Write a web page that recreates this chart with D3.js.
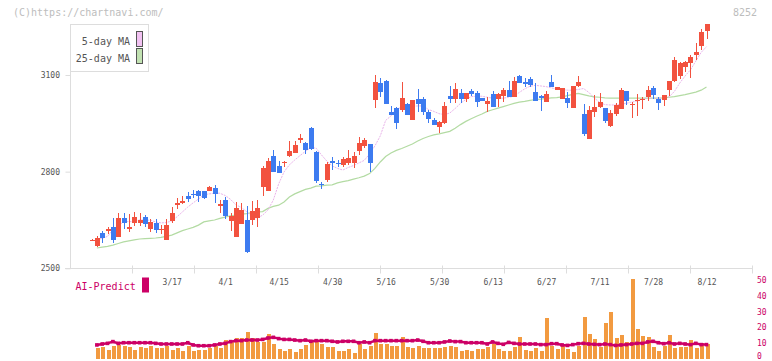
<!DOCTYPE html>
<html><head><meta charset="utf-8">
<script src="https://cdn.jsdelivr.net/npm/d3@7"></script>
<style>
html,body{margin:0;padding:0;background:#fff;}
svg{display:block;}
text{font-family:"DejaVu Sans Mono",monospace;}
</style></head>
<body><svg id="c" width="772" height="361"></svg>
<script>
// ---- data ----
const dateIdx    = [15,25,35,45,55,65,75,85,95,105,115];
const dateLabels = ["3/17","4/1","4/15","4/30","5/16","5/30","6/13","6/27","7/11","7/28","8/12"];
const priceTicks = [2500,2800,3100];
const volTicks   = [0,10,20,30,40,50];

const open  = [2588,2569,2609,2616,2627,2597,2656,2623,2641,2640,2659,2623,2641,2621,2588,2648,2697,2704,2724,2732,
               2740,2740,2740,2749,2694,2712,2647,2597,2637,2650,2650,2656,2753,2740,2849,2818,2827,2849,2859,2898,
               2888,2936,2862,2761,2774,2833,2828,2821,2826,2828,2865,2880,2887,3023,3076,3081,2986,2997,2991,3009,
               2960,3025,3027,2986,2960,2940,2950,3036,3025,3043,3024,3050,3045,3030,3011,3040,3025,3035,3053,3033,
               3097,3079,3087,3046,3035,3017,3077,3053,3025,3030,2998,3067,2979,2901,2984,3002,2997,2943,2980,2994,
               3050,3007,3020,3023,3033,3059,3027,3022,3053,3082,3098,3126,3138,3162,3190,3237];
const high  = [2591,2600,2616,2627,2656,2672,2672,2669,2675,2672,2665,2653,2652,2635,2653,2690,2717,2724,2738,2743,
               2743,2740,2755,2759,2712,2721,2672,2706,2703,2693,2709,2712,2818,2842,2867,2833,2833,2895,2894,2918,
               2893,2940,2865,2769,2831,2846,2836,2844,2867,2862,2908,2903,2887,3100,3090,3084,3004,3000,3078,3014,
               3022,3057,3033,2991,2967,2958,3017,3067,3076,3057,3045,3057,3050,3030,3033,3050,3045,3061,3082,3095,
               3100,3090,3095,3074,3038,3050,3100,3064,3061,3048,3066,3097,3010,3005,3038,3043,2997,2991,3012,3059,
               3050,3015,3041,3033,3067,3067,3033,3038,3081,3157,3141,3144,3162,3200,3243,3258];
const low   = [2585,2566,2579,2605,2578,2597,2622,2614,2632,2632,2629,2614,2609,2607,2588,2641,2684,2701,2706,2718,
               2707,2714,2740,2703,2672,2653,2616,2597,2637,2548,2634,2628,2724,2740,2800,2795,2815,2846,2857,2888,
               2855,2867,2764,2745,2769,2805,2815,2815,2820,2812,2852,2872,2800,2998,3033,3009,2976,2931,2986,2976,
               2960,2986,2976,2950,2945,2921,2947,3012,3012,3012,3017,3036,3002,3019,2984,3002,3002,3017,3031,3033,
               3076,3062,3064,3019,2989,3017,3064,3053,3025,2998,2998,3064,2912,2901,2971,2997,2950,2938,2973,2994,
               3007,2967,2974,2994,3019,3025,2991,3005,3036,3079,3088,3108,3092,3147,3178,3211];
const close = [2588,2595,2595,2622,2588,2656,2641,2627,2659,2650,2638,2644,2620,2623,2634,2672,2703,2710,2715,2729,
               2724,2719,2752,2731,2700,2662,2662,2687,2681,2551,2678,2687,2811,2833,2800,2795,2830,2864,2883,2905,
               2867,2869,2772,2758,2824,2826,2826,2838,2841,2849,2890,2898,2826,3078,3047,3009,2976,2952,3030,2976,
               3022,3009,2986,2963,2945,2953,3004,3025,3057,3025,3045,3040,3016,3019,3019,3002,3041,3054,3031,3081,
               3076,3071,3069,3019,3028,3041,3064,3062,3061,3014,3066,3079,2917,2991,3001,3015,2958,2982,3007,3053,
               3019,3010,3022,3027,3053,3038,3014,3038,3081,3147,3136,3139,3155,3172,3234,3258];

const ma5  = [null,2589,2593,2599,2619,2631,2645,2645,2645,2650,2650,2649,2644,2641,2642,2647,2660,2675,2690,2703,
              2715,2728,2731,2733,2733,2726,2714,2697,2689,2676,2659,2656,2665,2681,2712,2762,2799,2821,2836,2850,
              2863,2875,2873,2852,2833,2818,2810,2805,2813,2819,2827,2835,2855,2880,2911,2959,2973,2995,2999,3002,
              3003,3004,3004,2993,2987,2980,2977,2982,2996,3012,3024,3033,3034,3034,3031,3028,3028,3028,3031,3034,
              3046,3057,3065,3068,3066,3064,3060,3056,3055,3053,3053,3055,3058,3046,3029,3015,3008,3007,3007,3009,
              3012,3016,3019,3025,3028,3028,3028,3029,3032,3049,3075,3097,3116,3143,3170,3188];
const ma25 = [null,2563,2566,2568,2572,2577,2582,2585,2588,2591,2592,2593,2594,2596,2599,2603,2610,2617,2622,2627,
              2634,2644,2647,2650,2655,2659,2663,2665,2668,2670,2673,2675,2676,2686,2692,2696,2706,2721,2731,2738,
              2745,2749,2755,2756,2758,2759,2765,2769,2772,2777,2781,2786,2794,2810,2830,2847,2858,2866,2872,2879,
              2886,2895,2903,2909,2914,2917,2921,2925,2935,2946,2956,2964,2972,2979,2987,2992,2997,3002,3007,3012,
              3016,3018,3021,3024,3025,3027,3029,3030,3032,3036,3040,3043,3039,3035,3032,3031,3029,3028,3028,3028,
              3028,3028,3028,3028,3028,3028,3028,3029,3031,3033,3036,3039,3043,3047,3053,3063];

const volume = [null,7.2,7.8,5.7,8.4,8.9,8.2,7.6,5.7,7.4,7.0,8.4,7.0,7.0,8.2,5.7,7.0,5.3,8.2,5.3,
                5.7,5.7,7.2,8.4,7.2,12.0,11.4,13.3,13.3,17.1,13.3,10.8,10.8,16.0,9.5,6.5,5.1,6.5,4.4,6.3,
                8.9,10.8,10.8,9.5,7.6,7.6,5.3,5.3,6.5,3.8,9.5,6.5,8.2,16.5,9.5,9.5,8.2,8.2,13.9,7.6,
                7.0,8.2,7.2,7.2,7.2,7.2,7.6,8.4,7.6,5.3,5.9,5.3,6.5,6.5,7.4,9.3,6.5,5.3,5.3,7.4,
                13.9,5.9,5.3,7.2,5.3,26.0,8.4,6.5,8.4,6.5,4.4,8.4,26.6,15.8,12.9,7.8,23.0,29.7,13.5,15.4,
                11.0,50.6,19.0,14.8,14.1,7.8,5.3,8.4,15.2,7.2,7.8,7.8,12.0,7.2,10.3,9.5];
const aiPredict = [null,8.9,9.5,9.9,11.0,9.9,10.3,10.3,10.3,10.3,10.3,10.3,9.9,9.5,9.5,9.5,9.5,9.5,10.3,8.9,
                8.4,8.4,8.4,8.9,9.5,9.9,11.0,11.6,11.6,12.0,12.0,12.0,12.4,13.3,13.7,12.9,12.4,12.4,12.0,11.6,
                12.0,11.2,11.6,11.6,11.6,11.2,10.8,11.2,11.2,11.2,10.3,10.8,10.3,11.6,11.6,11.6,11.6,11.6,11.6,11.6,
                11.6,12.0,11.2,10.3,10.3,10.3,10.8,11.4,11.0,11.0,10.3,10.3,10.3,10.3,9.5,10.8,9.9,9.3,10.5,9.9,
                9.5,9.5,9.5,9.5,9.1,9.1,9.7,9.7,8.9,8.6,9.1,9.7,9.9,9.5,9.3,9.1,9.5,9.1,8.6,8.9,
                9.1,9.5,9.9,9.9,10.8,11.2,10.3,9.7,10.3,9.5,9.9,9.5,9.1,9.9,9.1,9.1];

// ---- styling ----
const UP = "#f2523f", DOWN = "#3d7bf0", GRID = "#dddddd", TXT = "#555555", MAG = "#cc0066";

const svg = d3.select("#c");
const idx = d3.range(open.length);

const x = d3.scaleLinear().domain([0, 115]).range([91.5, 706.5]);
const y = d3.scaleLinear().domain([2500, 3100]).range([268.3, 75]);
const v = d3.scaleLinear().domain([0, 50]).range([359, 280]);
const grid = d3.scaleLinear().domain([0, 11]).range([70, 752]);

// header texts
svg.append("text").attr("x", 13).attr("y", 16).attr("font-size", 10).attr("fill", "#bdbdbd").text("(C)https://chartnavi.com/");
svg.append("text").attr("x", 757).attr("y", 16).attr("font-size", 10).attr("fill", "#bdbdbd").attr("text-anchor", "end").text("8252");

// y axis line
svg.append("line").attr("x1", 70.5).attr("x2", 70.5).attr("y1", 24).attr("y2", y(2500)).attr("stroke", GRID);

// left axis
const ya = svg.append("g").attr("transform", "translate(70.5,0)")
  .call(d3.axisLeft(y).tickValues(priceTicks).tickSize(5).tickPadding(5.5).tickFormat(d3.format("d")));
ya.select(".domain").remove();
ya.selectAll(".tick line").attr("stroke", GRID);
ya.selectAll(".tick text").attr("fill", TXT).attr("font-size", 8).attr("font-family", "DejaVu Sans Mono");

// x axis line with grid ticks
const xa = svg.append("g").attr("transform", `translate(0,${Math.round(y(2500)) + 0.5})`)
  .call(d3.axisBottom(grid).tickValues(d3.range(1, 12)).tickSize(5).tickFormat(""));
xa.select(".domain").attr("stroke", GRID).attr("d", `M65,0H753`);
xa.selectAll(".tick line").attr("stroke", GRID).attr("y1", -3).attr("y2", 5);

// date labels
const da = svg.append("g").attr("transform", `translate(0,${y(2500)})`)
  .call(d3.axisBottom(x).tickValues(dateIdx).tickSize(0).tickPadding(11.5).tickFormat((d, i) => dateLabels[i]));
da.select(".domain").remove();
da.selectAll(".tick text").attr("fill", TXT).attr("font-size", 8).attr("font-family", "DejaVu Sans Mono");

// moving averages
const lineOf = arr => d3.line().defined(i => arr[i] != null).x(i => x(i)).y(i => y(arr[i]));
svg.append("path").attr("d", lineOf(ma25)(idx)).attr("fill", "none").attr("stroke", "#b3dba3").attr("stroke-width", 1.2);
svg.append("path").attr("d", lineOf(ma5)(idx)).attr("fill", "none").attr("stroke", "#e9b3ea").attr("stroke-width", 1).attr("stroke-dasharray", "2,1");

// candles
const cg = svg.append("g").attr("shape-rendering", "crispEdges");
const c = cg.selectAll("g.k").data(idx).join("g").attr("class", "k");
c.append("line")
  .attr("x1", i => Math.round(x(i)) + 0.5).attr("x2", i => Math.round(x(i)) + 0.5)
  .attr("y1", i => y(high[i])).attr("y2", i => y(low[i]))
  .attr("stroke", i => close[i] >= open[i] ? UP : DOWN);
c.append("rect")
  .attr("x", i => Math.round(x(i)) - 2).attr("width", 5)
  .attr("y", i => y(Math.max(open[i], close[i])))
  .attr("height", i => Math.max(1.2, Math.abs(y(open[i]) - y(close[i]))))
  .attr("fill", i => close[i] >= open[i] ? UP : DOWN);

// legend
const lg = svg.append("g");
lg.append("rect").attr("x", 70.5).attr("y", 24.5).attr("width", 78).attr("height", 47).attr("fill", "#fff").attr("stroke", GRID);
[["5-day MA", "#f2c2f2", 31.5, 45], ["25-day MA", "#c2e2b2", 48.5, 62]].forEach(([t, col, ry, ty]) => {
  lg.append("text").attr("x", 130).attr("y", ty).attr("text-anchor", "end").attr("font-size", 10).attr("fill", TXT).text(t);
  lg.append("rect").attr("x", 136.5).attr("y", ry).attr("width", 6).attr("height", 15).attr("fill", col).attr("stroke", "#555");
});

// bottom panel: volume-like bars
const vi = idx.filter(i => volume[i] != null);
svg.append("g").attr("shape-rendering", "crispEdges").selectAll("rect").data(vi).join("rect")
  .attr("x", i => Math.round(x(i)) - 1.5).attr("width", 4)
  .attr("y", i => v(volume[i])).attr("height", i => v(0) - v(volume[i]))
  .attr("fill", "#f29a40");

// AI-Predict line
const ai = idx.filter(i => aiPredict[i] != null);
svg.append("path").attr("d", d3.line().x(i => x(i)).y(i => v(aiPredict[i]))(ai))
  .attr("fill", "none").attr("stroke", MAG).attr("stroke-width", 2.5);
svg.append("g").selectAll("rect").data(ai).join("rect")
  .attr("x", i => x(i) - 1.8).attr("y", i => v(aiPredict[i]) - 1.8).attr("width", 3.6).attr("height", 3.6).attr("fill", MAG);

// right axis for bottom panel
const ra = svg.append("g").attr("transform", "translate(752,0)")
  .call(d3.axisRight(v).tickValues(volTicks).tickSize(0).tickPadding(5));
ra.select(".domain").remove();
ra.selectAll(".tick text").attr("fill", MAG).attr("font-size", 8).attr("font-family", "DejaVu Sans Mono")
  .attr("dy", d => d === 0 ? "-0.05em" : "0.3em");

// AI-Predict label
svg.append("text").attr("x", 75.5).attr("y", 289.5).attr("font-size", 10).attr("fill", MAG).text("AI-Predict");
svg.append("rect").attr("x", 142).attr("y", 277.5).attr("width", 7).attr("height", 15).attr("fill", MAG);
</script></body></html>
